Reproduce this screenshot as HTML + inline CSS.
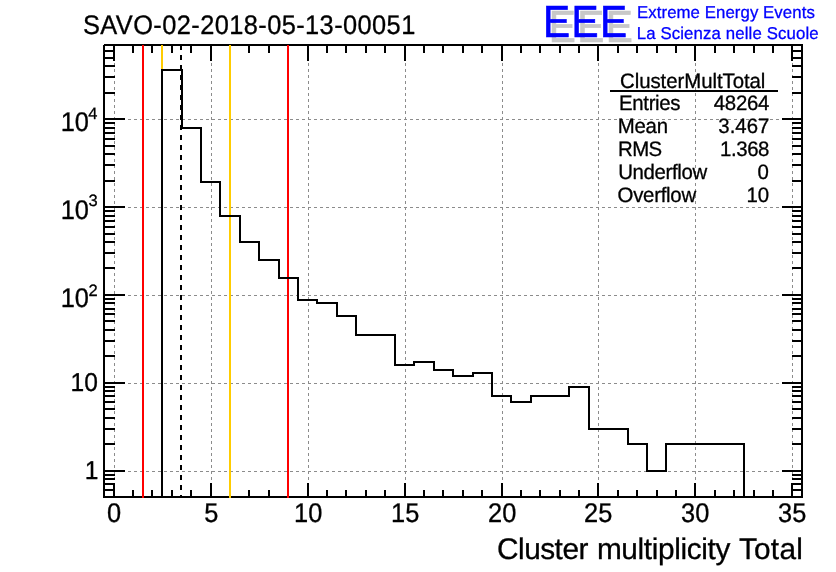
<!DOCTYPE html>
<html><head><meta charset="utf-8"><title>ClusterMultTotal</title>
<style>html,body{margin:0;padding:0;background:#fff;}svg{display:block;}</style></head>
<body>
<svg width="836" height="572" viewBox="0 0 836 572">
<rect width="836" height="572" fill="#fff"/>
<path d="M114.5 45V497 M211.5 45V497 M308.5 45V497 M405.5 45V497 M502.5 45V497 M598.5 45V497 M695.5 45V497 M792.5 45V497 M104 471.5H802 M104 383.5H802 M104 295.5H802 M104 207.5H802 M104 119.5H802" stroke="#8c8c8c" stroke-width="1" stroke-dasharray="3 3" fill="none" shape-rendering="crispEdges"/>
<path d="M104 44h699v2h-699z M103 45h2v453h-2z M801 44h2v454h-2z M103 496h700v2h-700z" fill="#000" shape-rendering="crispEdges"/>
<path d="M114 46v15 M114 496v-13 M133 46v7 M133 496v-6 M152 46v7 M152 496v-6 M172 46v7 M172 496v-6 M191 46v7 M191 496v-6 M211 46v15 M211 496v-13 M230 46v7 M230 496v-6 M249 46v7 M249 496v-6 M269 46v7 M269 496v-6 M288 46v7 M288 496v-6 M308 46v15 M308 496v-13 M327 46v7 M327 496v-6 M346 46v7 M346 496v-6 M366 46v7 M366 496v-6 M385 46v7 M385 496v-6 M405 46v15 M405 496v-13 M424 46v7 M424 496v-6 M443 46v7 M443 496v-6 M463 46v7 M463 496v-6 M482 46v7 M482 496v-6 M502 46v15 M502 496v-13 M521 46v7 M521 496v-6 M540 46v7 M540 496v-6 M560 46v7 M560 496v-6 M579 46v7 M579 496v-6 M598 46v15 M598 496v-13 M618 46v7 M618 496v-6 M637 46v7 M637 496v-6 M657 46v7 M657 496v-6 M676 46v7 M676 496v-6 M695 46v15 M695 496v-13 M715 46v7 M715 496v-6 M734 46v7 M734 496v-6 M754 46v7 M754 496v-6 M773 46v7 M773 496v-6 M792 46v15 M792 496v-13 M105 490h10 M801 490h-9 M105 484h10 M801 484h-9 M105 479h10 M801 479h-9 M105 475h10 M801 475h-9 M105 471h20 M801 471h-19 M105 444h10 M801 444h-9 M105 429h10 M801 429h-9 M105 418h10 M801 418h-9 M105 409h10 M801 409h-9 M105 402h10 M801 402h-9 M105 396h10 M801 396h-9 M105 391h10 M801 391h-9 M105 387h10 M801 387h-9 M105 383h20 M801 383h-19 M105 356h10 M801 356h-9 M105 341h10 M801 341h-9 M105 330h10 M801 330h-9 M105 321h10 M801 321h-9 M105 314h10 M801 314h-9 M105 309h10 M801 309h-9 M105 303h10 M801 303h-9 M105 299h10 M801 299h-9 M105 295h20 M801 295h-19 M105 268h10 M801 268h-9 M105 253h10 M801 253h-9 M105 242h10 M801 242h-9 M105 234h10 M801 234h-9 M105 227h10 M801 227h-9 M105 221h10 M801 221h-9 M105 216h10 M801 216h-9 M105 211h10 M801 211h-9 M105 207h20 M801 207h-19 M105 181h10 M801 181h-9 M105 165h10 M801 165h-9 M105 154h10 M801 154h-9 M105 146h10 M801 146h-9 M105 139h10 M801 139h-9 M105 133h10 M801 133h-9 M105 128h10 M801 128h-9 M105 123h10 M801 123h-9 M105 119h20 M801 119h-19 M105 93h10 M801 93h-9 M105 77h10 M801 77h-9 M105 66h10 M801 66h-9 M105 58h10 M801 58h-9 M105 51h10 M801 51h-9" stroke="#000" stroke-width="2" fill="none" shape-rendering="crispEdges"/>
<path d="M143 45V498" stroke="#ff0000" stroke-width="2" fill="none" shape-rendering="crispEdges"/>
<path d="M162 45V498" stroke="#ffcc00" stroke-width="2" fill="none" shape-rendering="crispEdges"/>
<path d="M230 45V498" stroke="#ffcc00" stroke-width="2" fill="none" shape-rendering="crispEdges"/>
<path d="M288 45V498" stroke="#ff0000" stroke-width="2" fill="none" shape-rendering="crispEdges"/>
<path d="M181 45V498" stroke="#000" stroke-width="2" stroke-dasharray="5 5" fill="none" shape-rendering="crispEdges"/>
<path d="M162 498V70H182V128H201V182H220V216H240V242H259V260H279V278H298V300H317V303H337V316H356V335H395V365H414V362H434V370H453V376H473V373H492V396H511V402H531V396H569V387H589V429H628V444H647V471H666V444H744V497" stroke="#000" stroke-width="2" fill="none" stroke-linejoin="miter" shape-rendering="crispEdges"/>
<path d="M610 91H778" stroke="#000" stroke-width="2" shape-rendering="crispEdges"/>
<g font-family="Liberation Sans, Arial, sans-serif" font-size="40.6" letter-spacing="1.47" text-rendering="geometricPrecision" stroke-width="0.6"><text transform="translate(548.67 41.7) scale(1 1.11)" fill="#c8c8c8" stroke="#c8c8c8">EEE</text><text transform="translate(542.97 36.6) scale(1 1.11)" fill="#0000ff" stroke="#0000ff">EEE</text></g>
<g font-family="Liberation Sans, Arial, sans-serif" text-rendering="geometricPrecision"><text transform="translate(83.00 33.75) scale(1 1.055)" font-size="25.4" fill="#000" textLength="332.27" lengthAdjust="spacing" stroke="#000" stroke-width="0.3" stroke-linejoin="round">SAVO-02-2018-05-13-00051</text>
<text transform="translate(107.04 522.1) scale(1 1.063)" font-size="25.4" fill="#000" stroke="#000" stroke-width="0.3" stroke-linejoin="round">0</text>
<text transform="translate(204.14 522.1) scale(1 1.063)" font-size="25.4" fill="#000" stroke="#000" stroke-width="0.3" stroke-linejoin="round">5</text>
<text transform="translate(294.07 522.1) scale(1 1.063)" font-size="25.4" fill="#000" stroke="#000" stroke-width="0.3" stroke-linejoin="round">10</text>
<text transform="translate(391.07 522.1) scale(1 1.063)" font-size="25.4" fill="#000" stroke="#000" stroke-width="0.3" stroke-linejoin="round">15</text>
<text transform="translate(488.07 522.1) scale(1 1.063)" font-size="25.4" fill="#000" stroke="#000" stroke-width="0.3" stroke-linejoin="round">20</text>
<text transform="translate(584.08 522.1) scale(1 1.063)" font-size="25.4" fill="#000" stroke="#000" stroke-width="0.3" stroke-linejoin="round">25</text>
<text transform="translate(681.08 522.1) scale(1 1.063)" font-size="25.4" fill="#000" stroke="#000" stroke-width="0.3" stroke-linejoin="round">30</text>
<text transform="translate(778.08 522.1) scale(1 1.063)" font-size="25.4" fill="#000" stroke="#000" stroke-width="0.3" stroke-linejoin="round">35</text>
<text transform="translate(60.75 131.0) scale(1 1.063)" font-size="25.4" fill="#000" stroke="#000" stroke-width="0.3" stroke-linejoin="round">10</text>
<text transform="translate(88.16 119.2) scale(1 1.0)" font-size="16.5" fill="#000" stroke="#000" stroke-width="0.3" stroke-linejoin="round">4</text>
<text transform="translate(60.75 218.9) scale(1 1.063)" font-size="25.4" fill="#000" stroke="#000" stroke-width="0.3" stroke-linejoin="round">10</text>
<text transform="translate(88.41 206.1) scale(1 1.0)" font-size="16.5" fill="#000" stroke="#000" stroke-width="0.3" stroke-linejoin="round">3</text>
<text transform="translate(60.75 306.9) scale(1 1.063)" font-size="25.4" fill="#000" stroke="#000" stroke-width="0.3" stroke-linejoin="round">10</text>
<text transform="translate(88.41 295.8) scale(1 1.0)" font-size="16.5" fill="#000" stroke="#000" stroke-width="0.3" stroke-linejoin="round">2</text>
<text transform="translate(70.54 391.1) scale(1 1.05)" font-size="24.6" fill="#000" stroke="#000" stroke-width="0.3" stroke-linejoin="round">10</text>
<text transform="translate(84.71 478.55) scale(1 1.05)" font-size="24.6" fill="#000" stroke="#000" stroke-width="0.3" stroke-linejoin="round">1</text>
<text transform="translate(497.00 558.8) scale(1 1.0)" font-size="29.8" fill="#000" textLength="91.39" lengthAdjust="spacing" stroke="#000" stroke-width="0.3" stroke-linejoin="round">Cluster</text>
<text transform="translate(596.90 558.8) scale(1 1.0)" font-size="29.8" fill="#000" textLength="133.52" lengthAdjust="spacing" stroke="#000" stroke-width="0.3" stroke-linejoin="round">multiplicity</text>
<text transform="translate(738.90 558.8) scale(1 1.0)" font-size="29.8" fill="#000" textLength="63.95" lengthAdjust="spacing" stroke="#000" stroke-width="0.3" stroke-linejoin="round">Total</text>
<text transform="translate(620.00 87.85) scale(1 1.025)" font-size="20.4" fill="#000" textLength="145.39" lengthAdjust="spacing" stroke="#000" stroke-width="0.3" stroke-linejoin="round">ClusterMultTotal</text>
<text transform="translate(619.10 109.75) scale(1 1.025)" font-size="20.4" fill="#000" textLength="61.37" lengthAdjust="spacing" stroke="#000" stroke-width="0.3" stroke-linejoin="round">Entries</text>
<text transform="translate(713.80 109.75) scale(1 1.025)" font-size="20.4" fill="#000" textLength="55.6" lengthAdjust="spacing" stroke="#000" stroke-width="0.3" stroke-linejoin="round">48264</text>
<text transform="translate(617.80 132.8) scale(1 1.025)" font-size="20.4" fill="#000" textLength="50.22" lengthAdjust="spacing" stroke="#000" stroke-width="0.3" stroke-linejoin="round">Mean</text>
<text transform="translate(718.30 132.8) scale(1 1.025)" font-size="20.4" fill="#000" textLength="51.13" lengthAdjust="spacing" stroke="#000" stroke-width="0.3" stroke-linejoin="round">3.467</text>
<text transform="translate(618.10 155.9) scale(1 1.025)" font-size="20.4" fill="#000" textLength="44.01" lengthAdjust="spacing" stroke="#000" stroke-width="0.3" stroke-linejoin="round">RMS</text>
<text transform="translate(720.10 155.9) scale(1 1.025)" font-size="20.4" fill="#000" textLength="49.33" lengthAdjust="spacing" stroke="#000" stroke-width="0.3" stroke-linejoin="round">1.368</text>
<text transform="translate(618.20 179.0) scale(1 1.025)" font-size="20.4" fill="#000" textLength="89.11" lengthAdjust="spacing" stroke="#000" stroke-width="0.3" stroke-linejoin="round">Underflow</text>
<text transform="translate(757.40 179.0) scale(1 1.025)" font-size="20.4" fill="#000" stroke="#000" stroke-width="0.3" stroke-linejoin="round">0</text>
<text transform="translate(617.60 202.0) scale(1 1.025)" font-size="20.4" fill="#000" textLength="78.55" lengthAdjust="spacing" stroke="#000" stroke-width="0.3" stroke-linejoin="round">Overflow</text>
<text transform="translate(746.40 202.0) scale(1 1.025)" font-size="20.4" fill="#000" stroke="#000" stroke-width="0.3" stroke-linejoin="round">10</text>
<text transform="translate(637.00 17.6) scale(1 1.02)" font-size="16.8" fill="#0000ff" textLength="177.78" lengthAdjust="spacing" stroke="#0000ff" stroke-width="0.3" stroke-linejoin="round">Extreme Energy Events</text>
<text transform="translate(636.70 38.7) scale(1 1.02)" font-size="16.8" fill="#0000ff" textLength="181.92" lengthAdjust="spacing" stroke="#0000ff" stroke-width="0.3" stroke-linejoin="round">La Scienza nelle Scuole</text></g>
</svg>
</body></html>
